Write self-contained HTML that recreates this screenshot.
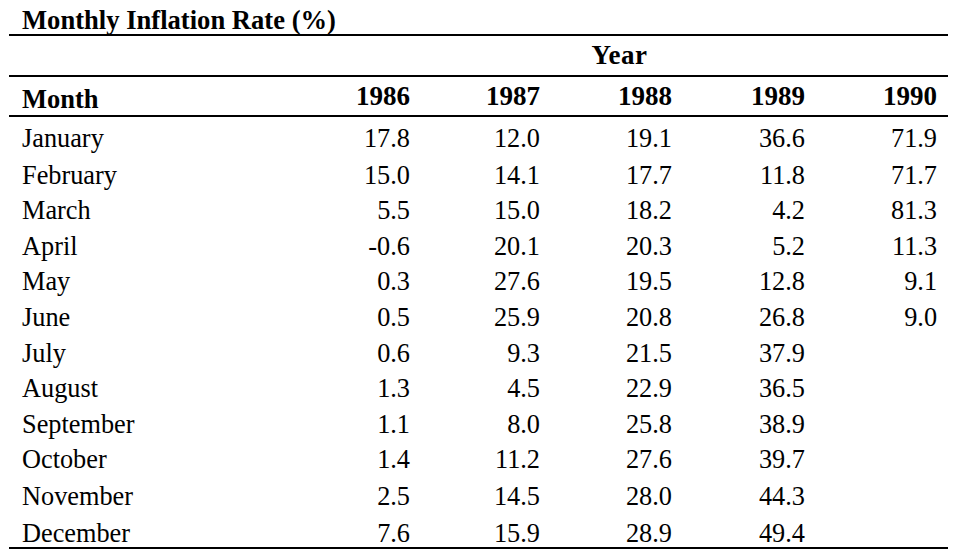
<!DOCTYPE html>
<html lang="en">
<head>
<meta charset="utf-8">
<title>Monthly Inflation Rate (%)</title>
<style>
  html, body { margin: 0; padding: 0; background: #fff; }
  body {
    width: 960px; height: 560px; position: relative; overflow: hidden;
    font-family: "Liberation Serif", "Times New Roman", serif; color: #000;
  }
  table.inflation {
    position: absolute; left: 9px; top: 0; width: 939px;
    border-collapse: separate; border-spacing: 0; table-layout: fixed;
  }
  caption {
    caption-side: top; text-align: left; white-space: nowrap;
    font-weight: bold; font-size: 26.6px; line-height: 0;
    padding: 20px 0 0 13px; height: 14px;
  }
  th, td {
    padding: 0 12px 0 0; vertical-align: top; line-height: 0;
    white-space: nowrap; text-align: right;
  }
  th:last-child, td:last-child { padding-right: 11px; }
  th:first-child, td:first-child { text-align: left; padding-left: 13px; padding-right: 0; }
  th { font-weight: bold; font-size: 27px; }
  td { font-weight: normal; font-size: 26.3px; padding-top: 22px; }
  tr.year { height: 43px; }
  tr.year th { border-top: 2px solid #000; border-bottom: 2px solid #000; padding-top: 19px; }
  tr.year th.span { text-align: center; padding-right: 1px; letter-spacing: 0.5px; }
  tr.head { height: 40px; }
  tr.head th { border-bottom: 2px solid #000; padding-top: 19px; }
  tr.head th:first-child { font-size: 26.5px; padding-top: 22px; }
  tr.last td { border-bottom: 2px solid #000; }
</style>
</head>
<body>
  <table class="inflation">
    <caption>Monthly Inflation Rate (%)</caption>
    <colgroup>
      <col style="width:283px"><col style="width:130px"><col style="width:130px"><col style="width:132px"><col style="width:133px"><col style="width:131px">
    </colgroup>
    <thead>
      <tr class="year"><th></th><th class="span" colspan="5">Year</th></tr>
      <tr class="head"><th>Month</th><th>1986</th><th>1987</th><th>1988</th><th>1989</th><th>1990</th></tr>
    </thead>
    <tbody>
      <tr style="height:37px"><td>January</td><td>17.8</td><td>12.0</td><td>19.1</td><td>36.6</td><td>71.9</td></tr>
      <tr style="height:35px"><td>February</td><td>15.0</td><td>14.1</td><td>17.7</td><td>11.8</td><td>71.7</td></tr>
      <tr style="height:36px"><td>March</td><td>5.5</td><td>15.0</td><td>18.2</td><td>4.2</td><td>81.3</td></tr>
      <tr style="height:35px"><td>April</td><td>-0.6</td><td>20.1</td><td>20.3</td><td>5.2</td><td>11.3</td></tr>
      <tr style="height:36px"><td>May</td><td>0.3</td><td>27.6</td><td>19.5</td><td>12.8</td><td>9.1</td></tr>
      <tr style="height:36px"><td>June</td><td>0.5</td><td>25.9</td><td>20.8</td><td>26.8</td><td>9.0</td></tr>
      <tr style="height:35px"><td>July</td><td>0.6</td><td>9.3</td><td>21.5</td><td>37.9</td><td></td></tr>
      <tr style="height:36px"><td>August</td><td>1.3</td><td>4.5</td><td>22.9</td><td>36.5</td><td></td></tr>
      <tr style="height:35px"><td>September</td><td>1.1</td><td>8.0</td><td>25.8</td><td>38.9</td><td></td></tr>
      <tr style="height:37px"><td>October</td><td>1.4</td><td>11.2</td><td>27.6</td><td>39.7</td><td></td></tr>
      <tr style="height:37px"><td>November</td><td>2.5</td><td>14.5</td><td>28.0</td><td>44.3</td><td></td></tr>
      <tr class="last" style="height:37px"><td>December</td><td>7.6</td><td>15.9</td><td>28.9</td><td>49.4</td><td></td></tr>
    </tbody>
  </table>
</body>
</html>
